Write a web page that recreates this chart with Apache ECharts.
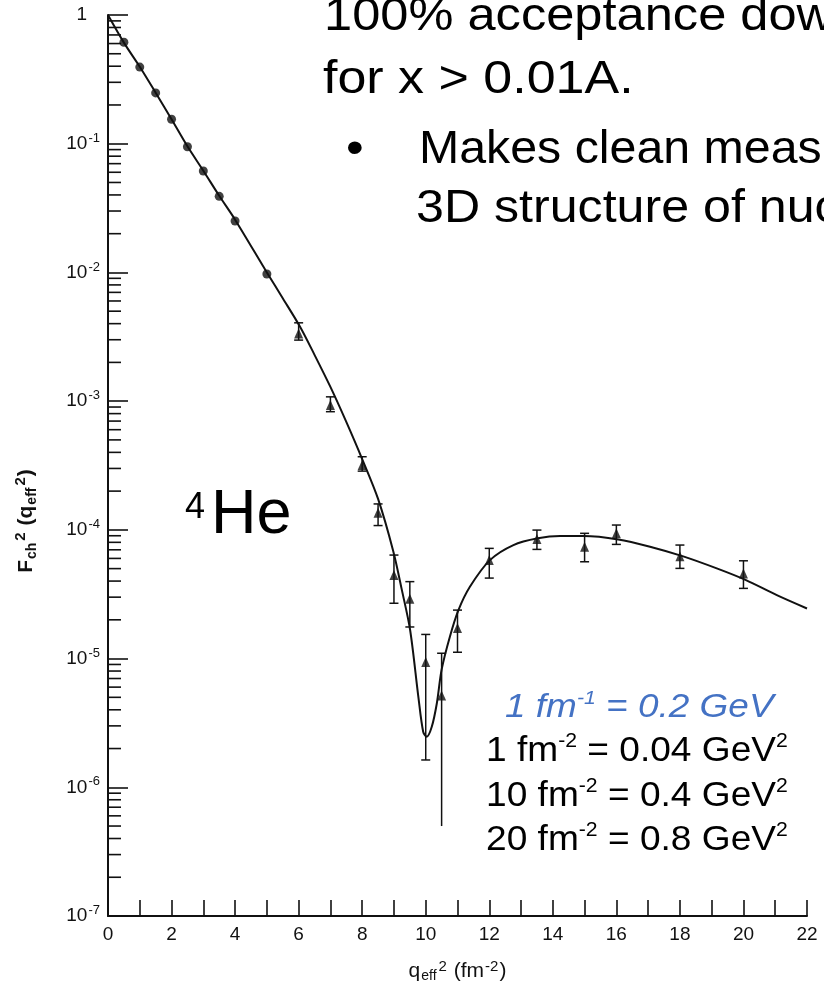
<!DOCTYPE html>
<html><head><meta charset="utf-8">
<script src="https://cdn.jsdelivr.net/npm/echarts@6/dist/echarts.min.js"></script>
<style>html,body{margin:0;padding:0;background:#fff}#c{width:824px;height:985px}</style>
</head><body><div id="c"></div>
<script>
// ---- theory curve ----
const curveQ = [0, 0.5, 1, 1.5, 2, 2.5, 3, 3.5, 4, 5, 5.5, 6.04, 6.5, 7.0, 7.5, 8.0, 8.5, 8.98, 9.25, 9.51, 9.77, 9.92, 10.03, 10.19, 10.35, 10.5, 10.76, 11.03, 11.39, 12.02, 12.76, 13.53, 14.23, 14.96, 16.06, 17.06, 18.08, 19.16, 20.08, 21.05, 22];
const curveF = [1, 0.61, 0.396, 0.249, 0.155, 0.0955, 0.0617, 0.0394, 0.0257, 0.0100, 6.3e-3, 3.80e-3, 2.29e-3, 1.29e-3, 6.9e-4, 3.55e-4, 1.74e-4, 6.8e-5, 3.4e-5, 1.66e-5, 5.0e-6, 2.7e-6, 2.47e-6, 2.95e-6, 4.5e-6, 8.2e-6, 1.48e-5, 2.38e-5, 3.61e-5, 5.82e-5, 7.62e-5, 8.59e-5, 8.95e-5, 8.95e-5, 8.43e-5, 7.40e-5, 6.25e-5, 5.02e-5, 4.07e-5, 3.11e-5, 2.45e-5];

// ---- data, dots (low q) ----
const dotQ = [0.5, 1, 1.5, 2, 2.5, 3, 3.5, 4, 5];
const dotF = [0.614, 0.394, 0.248, 0.155, 0.0948, 0.0614, 0.039, 0.0251, 0.00972];

// ---- data, triangles with error bars ----
const triQ = [6, 7, 8, 8.5, 9, 9.5, 10, 10.5, 11, 12, 13.5, 15, 16, 18, 20];
const triF = [3.36e-3, 9.33e-4, 3.19e-4, 1.36e-4, 4.45e-5, 2.92e-5, 9.4e-6, 5.16e-6, 1.73e-5, 5.82e-5, 8.48e-5, 7.40e-5, 9.4e-5, 6.25e-5, 4.59e-5];
const triLow = [2.98e-3, 8.28e-4, 2.86e-4, 1.08e-4, 2.69e-5, 1.76e-5, 1.63e-6, 5.0e-7, 1.12e-5, 4.22e-5, 7.05e-5, 5.65e-5, 7.71e-5, 5.02e-5, 3.51e-5];
const triHigh = [4.06e-3, 1.08e-3, 3.70e-4, 1.59e-4, 6.37e-5, 3.96e-5, 1.54e-5, 1.10e-5, 2.38e-5, 7.18e-5, 9.96e-5, 9.4e-5, 1.09e-4, 7.62e-5, 5.75e-5];
const openLowerEnd = [10.5];

// ---- axes ----
const xTickLabels = ['0', '2', '4', '6', '8', '10', '12', '14', '16', '18', '20', '22'];
const yDecades = [0, -1, -2, -3, -4, -5, -6, -7];

const ink = '#111';
const scanFont = "'Liberation Sans','DejaVu Sans',sans-serif";
const slideFont = "'Liberation Sans',Arial,sans-serif";

const minorVals = [];
yDecades.slice(1).forEach(e => { for (let k = 2; k <= 9; k++) minorVals.push([0, k * Math.pow(10, e)]); });

const chart = echarts.init(document.getElementById('c'));
chart.setOption({
  backgroundColor: '#fff',
  animation: false,
  grid: { left: 108, right: 17, top: 15, bottom: 69, outerBoundsMode: 'none', containLabel: false },
  xAxis: {
    type: 'value', min: 0, max: 22, interval: 2,
    axisLine: { lineStyle: { color: ink, width: 2 } },
    axisTick: { inside: true, length: 16, lineStyle: { color: ink, width: 1.6 } },
    minorTick: { show: true, splitNumber: 2, length: 16, lineStyle: { color: ink, width: 1.6 } },
    splitLine: { show: false },
    axisLabel: {
      color: ink, fontSize: 19, fontFamily: scanFont, margin: 9,
      formatter: v => xTickLabels[Math.round(v / 2)]
    },
    name: '{b|q}{sub|eff}{sup|2}{b| (fm}{sup|-2}{b|)}',
    nameLocation: 'middle', nameGap: 43,
    nameTextStyle: {
      rich: {
        b: { fontSize: 21, fontFamily: scanFont, color: ink, lineHeight: 24 },
        sub: { fontSize: 14, fontFamily: scanFont, color: ink, verticalAlign: 'bottom', lineHeight: 14, padding: [0, 1, 0, 1] },
        sup: { fontSize: 15, fontFamily: scanFont, color: ink, verticalAlign: 'top', lineHeight: 15, padding: [0, 1, 0, 1] }
      }
    }
  },
  yAxis: {
    type: 'log', logBase: 10, min: 1e-7, max: 1, splitNumber: 7,
    axisLine: { show: true, lineStyle: { color: ink, width: 2 } },
    axisTick: { show: true, inside: true, length: 20, lineStyle: { color: ink, width: 1.6 } },
    splitLine: { show: false },
    axisLabel: {
      margin: 8,
      formatter: v => {
        const e = Math.round(Math.log10(v));
        return e === 0 ? '{b|1}{p|}' : '{b|10}{s|-' + (-e) + '}';
      },
      rich: {
        b: { fontSize: 19, fontFamily: scanFont, color: ink, lineHeight: 24 },
        s: { fontSize: 13, fontFamily: scanFont, color: ink, verticalAlign: 'top', lineHeight: 13, padding: [0, 0, 0, 1] },
        p: { width: 13 }
      }
    }
  },
  series: [
    {
      type: 'custom', coordinateSystem: 'cartesian2d', silent: true, z: 1,
      data: minorVals,
      renderItem: (params, api) => {
        const p = api.coord([0, api.value(1)]);
        return { type: 'line', shape: { x1: p[0], y1: p[1], x2: p[0] + 13, y2: p[1] }, style: { stroke: ink, lineWidth: 1.6 } };
      }
    },
    {
      type: 'line', data: curveQ.map((q, i) => [q, curveF[i]]),
      showSymbol: false, smooth: 0.3, lineStyle: { color: ink, width: 2 }, z: 3, silent: true
    },
    {
      type: 'scatter', data: dotQ.map((q, i) => [q, dotF[i]]),
      symbol: 'circle', symbolSize: 9, itemStyle: { color: ink }, z: 4
    },
    {
      type: 'custom', coordinateSystem: 'cartesian2d', silent: true, z: 4,
      data: triQ.map((q, i) => [q, triLow[i], triHigh[i]]),
      renderItem: (params, api) => {
        const q = api.value(0);
        const lo = api.coord([q, api.value(1)]);
        const hi = api.coord([q, api.value(2)]);
        const w = 4.5;
        const children = [
          { type: 'line', shape: { x1: hi[0], y1: hi[1], x2: lo[0], y2: lo[1] }, style: { stroke: ink, lineWidth: 1.5 } },
          { type: 'line', shape: { x1: hi[0] - w, y1: hi[1], x2: hi[0] + w, y2: hi[1] }, style: { stroke: ink, lineWidth: 1.5 } }
        ];
        if (openLowerEnd.indexOf(q) < 0) {
          children.push({ type: 'line', shape: { x1: lo[0] - w, y1: lo[1], x2: lo[0] + w, y2: lo[1] }, style: { stroke: ink, lineWidth: 1.5 } });
        }
        return { type: 'group', children };
      }
    },
    {
      type: 'scatter', data: triQ.map((q, i) => [q, triF[i]]),
      symbol: 'triangle', symbolSize: [9, 10], itemStyle: { color: ink }, z: 5
    }
  ],
  graphic: [
    { type: 'text', x: 26, y: 521, rotation: Math.PI / 2,
      style: { text: '{b|F}{sub|ch}{sup|2}{b| (q}{sub|eff}{sup|2}{b|)}', align: 'center', verticalAlign: 'middle',
        rich: {
          b: { fontSize: 21, fontFamily: scanFont, fontWeight: 'bold', fill: ink, lineHeight: 26 },
          sub: { fontSize: 14, fontFamily: scanFont, fontWeight: 'bold', fill: ink, verticalAlign: 'bottom', lineHeight: 15, padding: [0, 1, 0, 1] },
          sup: { fontSize: 15, fontFamily: scanFont, fontWeight: 'bold', fill: ink, verticalAlign: 'top', lineHeight: 16, padding: [0, 1, 0, 1] }
        } } },
    { type: 'text', x: 324, y: 17, scaleX: 1.1, style: { text: '100% acceptance down', font: '46px ' + slideFont, fill: '#000', verticalAlign: 'middle' } },
    { type: 'text', x: 323, y: 80, scaleX: 1.13, style: { text: 'for x > 0.01A.', font: '46px ' + slideFont, fill: '#000', verticalAlign: 'middle' } },
    { type: 'text', x: 346, y: 150, scaleX: 1.1, style: { text: '•', font: '46px ' + slideFont, fill: '#000', verticalAlign: 'middle' } },
    { type: 'text', x: 419, y: 150, scaleX: 1.05, style: { text: 'Makes clean measurements', font: '46px ' + slideFont, fill: '#000', verticalAlign: 'middle' } },
    { type: 'text', x: 416, y: 209, scaleX: 1.09, style: { text: '3D structure of nuclei', font: '46px ' + slideFont, fill: '#000', verticalAlign: 'middle' } },
    { type: 'text', x: 185, y: 508, style: { text: '4', font: '36px ' + slideFont, fill: '#000', verticalAlign: 'middle' } },
    { type: 'text', x: 211, y: 516, style: { text: 'He', font: '63px ' + slideFont, fill: '#000', verticalAlign: 'middle' } },
    { type: 'text', x: 505, y: 708, scaleX: 1.12, style: { text: '{a|1 fm}{s|-1}{a| = 0.2 GeV}', verticalAlign: 'middle',
        rich: { a: { fontSize: 33, fontStyle: 'italic', fontFamily: slideFont, fill: '#4472C4', lineHeight: 38 },
                s: { fontSize: 19, fontStyle: 'italic', fontFamily: slideFont, fill: '#4472C4', verticalAlign: 'top', lineHeight: 22 } } } },
    { type: 'text', x: 486, y: 751, scaleX: 1.06, style: { text: '{a|1 fm}{s|-2}{a| = 0.04 GeV}{s|2}', verticalAlign: 'middle',
        rich: { a: { fontSize: 35, fontFamily: slideFont, fill: '#000', lineHeight: 40 },
                s: { fontSize: 20, fontFamily: slideFont, fill: '#000', verticalAlign: 'top', lineHeight: 23 } } } },
    { type: 'text', x: 486, y: 796, scaleX: 1.06, style: { text: '{a|10 fm}{s|-2}{a| = 0.4 GeV}{s|2}', verticalAlign: 'middle',
        rich: { a: { fontSize: 35, fontFamily: slideFont, fill: '#000', lineHeight: 40 },
                s: { fontSize: 20, fontFamily: slideFont, fill: '#000', verticalAlign: 'top', lineHeight: 23 } } } },
    { type: 'text', x: 486, y: 840, scaleX: 1.06, style: { text: '{a|20 fm}{s|-2}{a| = 0.8 GeV}{s|2}', verticalAlign: 'middle',
        rich: { a: { fontSize: 35, fontFamily: slideFont, fill: '#000', lineHeight: 40 },
                s: { fontSize: 20, fontFamily: slideFont, fill: '#000', verticalAlign: 'top', lineHeight: 23 } } } }
  ]
});
</script>
</body></html>
